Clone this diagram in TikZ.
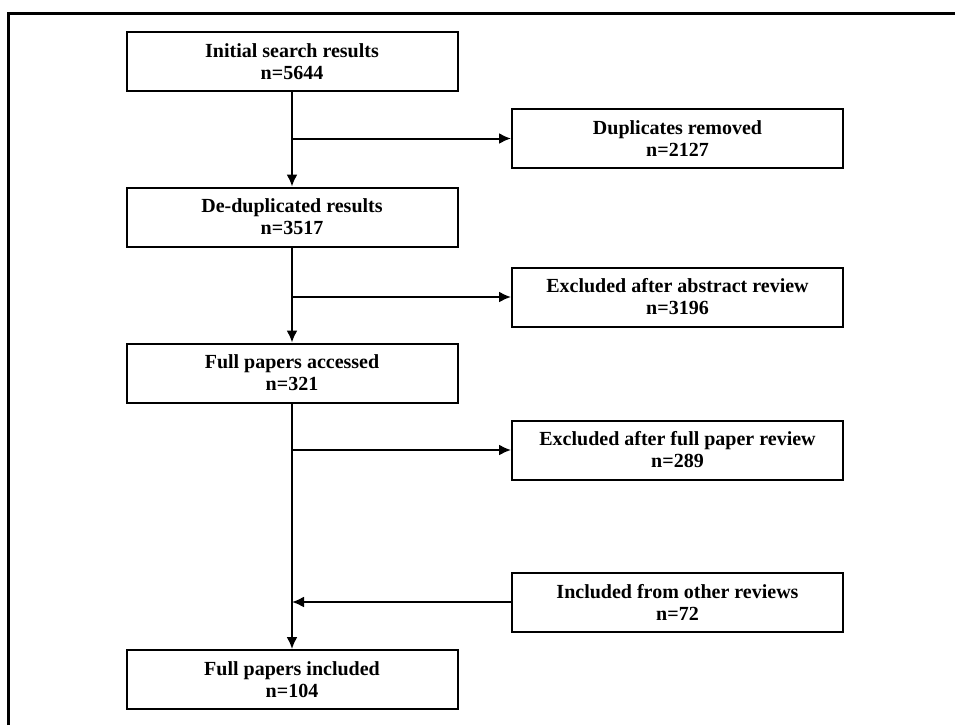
\documentclass[tikz,border=0pt]{standalone}
\usepackage{fontspec}
\setmainfont{Liberation Serif}
\usepackage{tikz}
\usetikzlibrary{arrows.meta}

\begin{document}
\begin{tikzpicture}[x=0.5pt,y=-0.5pt,
        box/.style={draw,line width=1pt,minimum width=165.5pt,minimum height=29.5pt,inner sep=0pt,align=center,font=\bfseries\fontsize{10}{11}\selectfont},
        arr/.style={line width=1pt,-{Latex[length=6pt,width=5.5pt]}}]
        \useasboundingbox (0,0) rectangle (955,725);
        \draw[line width=1.8pt] (8.5,725) -- (8.5,13.5) -- (955,13.5);
        \node[box](init)at(292,61.5){Initial search results\\n=5644};
        \node[box](dedup)at(292,217){De-duplicated results\\n=3517};
        \node[box](access)at(292,373){Full papers accessed\\n=321};
        \node[box](incl)at(292,679.5){Full papers included\\n=104};
        \node[box](dup)at(677.5,138.5){Duplicates removed\\n=2127};
        \node[box](exabs)at(677.5,297){Excluded after abstract review\\n=3196};
        \node[box](exfull)at(677.5,450){Excluded after full paper review\\n=289};
        \node[box](other)at(677.5,602){Included from other reviews\\n=72};
        \draw[arr](init)--(dedup);
        \draw[arr](dedup)--(access);
        \draw[arr](access)--(incl);
        \draw[arr](init.south |- dup.west)--(dup.west);
        \draw[arr](dedup.south |- exabs.west)--(exabs.west);
        \draw[arr](access.south |- exfull.west)--(exfull.west);
        \draw[arr](other.west)--(access.south |- other.west);
    \end{tikzpicture}
\end{document}
